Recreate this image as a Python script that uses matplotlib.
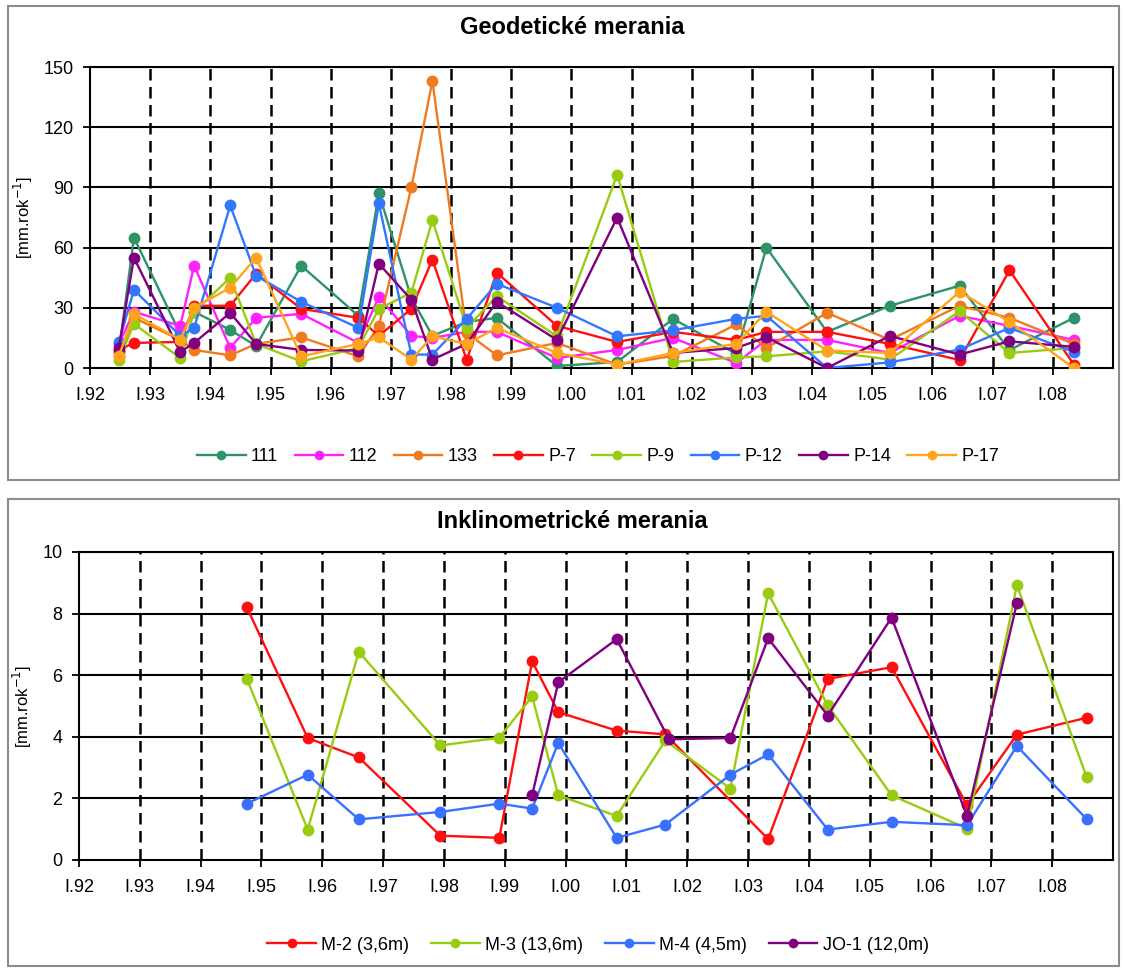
import numpy as np
import matplotlib.pyplot as plt
from matplotlib.patches import Rectangle
from matplotlib.lines import Line2D

plt.rcParams['font.family'] = ['Liberation Sans', 'DejaVu Sans']

# --- data -------------------------------------------------------------
years = list(range(1992, 2009))
year_labels = ['I.%02d' % (y % 100) for y in years]

geo_dates = [1992.48, 1992.73, 1993.50, 1993.73, 1994.33, 1994.76, 1995.51,
             1996.46, 1996.80, 1997.34, 1997.69, 1998.26, 1998.76, 1999.76,
             2000.76, 2001.69, 2002.74, 2003.24, 2004.25, 2005.29, 2006.45,
             2007.28, 2008.35]

s111 = [8, 65, 17, 28, 19, 11, 51, 26, 87, 35, 16, 23, 25, 1, 3, 24.5, 7, 60, 18, 31, 41, 9, 25]
s112 = [12, 28, 21, 51, 10, 25, 27, 12.5, 35.5, 16, 15, 18, 18, 5, 9, 15, 2.5, 14, 14, 7.5, 26, 21, 14]
s133 = [6, 25, 14, 9, 6.3, 12, 15.3, 5.8, 21, 90, 143, 17.5, 6.3, 12.5, 1.7, 6, 21.7, 10, 27.5, 14, 31, 25, 12]
sP7 = [9, 12.5, 13, 31, 31, 47, 29.5, 25, 16, 29.5, 54, 4, 47.5, 21, 13, 18, 14, 18, 18, 12, 4, 48.7, 1.7]
sP9 = [4, 22, 5, 28, 45, 12, 3.3, 10, 29.5, 37.5, 73.7, 20, 35.8, 15.8, 96.3, 3, 5.3, 5.8, 8.3, 4.2, 28.3, 7.5, 10]
sP12 = [13, 39, 16, 20, 81, 46, 33, 20, 82, 6.7, 6.7, 24.5, 42, 30, 15.8, 18.8, 24.5, 26, 0, 2.8, 9.2, 20, 8]
sP14 = [10, 55, 8, 12.5, 27.5, 12, 9, 8.7, 52, 34, 4.2, 12, 33, 14, 75, 7.5, 10, 15.3, 0, 16, 6.7, 13.3, 10.5]
sP17 = [6, 27, 14, 30, 40, 55, 5.8, 12, 15.3, 4.2, 15.8, 12, 20, 7.5, 1.7, 7.5, 12, 28, 8.7, 7.5, 38, 23, 0]

m2_dates = [1994.76, 1995.76, 1996.60, 1997.94, 1998.91, 1999.45, 1999.88, 2000.84,
            2001.64, 2003.33, 2004.31, 2005.36, 2006.60, 2007.42, 2008.57]
m2 = [8.2, 3.96, 3.33, 0.79, 0.72, 6.45, 4.8, 4.2, 4.08, 0.68, 5.88, 6.26, 1.78, 4.07, 4.62]

m34_dates = [1994.76, 1995.76, 1996.60, 1997.94, 1998.91, 1999.45, 1999.88, 2000.84,
             2001.64, 2002.71, 2003.33, 2004.31, 2005.36, 2006.60, 2007.42, 2008.57]
m3 = [5.88, 0.99, 6.76, 3.72, 3.97, 5.31, 2.1, 1.43, 3.88, 2.32, 8.66, 5.02, 2.1, 1.02, 8.92, 2.68]
m4 = [1.83, 2.77, 1.32, 1.56, 1.83, 1.67, 3.8, 0.72, 1.15, 2.77, 3.43, 0.99, 1.24, 1.13, 3.7, 1.32]

jo1_dates = [1999.45, 1999.88, 2000.84, 2001.70, 2002.71, 2003.33, 2004.31, 2005.36, 2006.60, 2007.42]
jo1 = [2.1, 5.77, 7.17, 3.92, 3.96, 7.2, 4.69, 7.87, 1.43, 8.34]

geo_series = [('111', s111, '#2e9468'), ('112', s112, '#ff22ff'), ('133', s133, '#f07a1e'),
              ('P-7', sP7, '#ff1010'), ('P-9', sP9, '#99cc11'), ('P-12', sP12, '#3377ff'),
              ('P-14', sP14, '#800080'), ('P-17', sP17, '#ffa41c')]
ink_series = [('M-2 (3,6m)', m2_dates, m2, '#ff1010'), ('M-3 (13,6m)', m34_dates, m3, '#99cc11'),
              ('M-4 (4,5m)', m34_dates, m4, '#3a70ff'), ('JO-1 (12,0m)', jo1_dates, jo1, '#800080')]

# --- figure -----------------------------------------------------------
fig = plt.figure(figsize=(11.24, 9.68), dpi=100)
W, H = 1124, 968

# grey frames around the two charts
for top, bot in [(6, 480), (499, 966)]:
    fig.patches.append(Rectangle((8 / W, 1 - bot / H), 1111 / W, (bot - top) / H,
                                 transform=fig.transFigure, fill=False,
                                 edgecolor='#8c8c8c', linewidth=1.5))


def style_axis(ax, ymax, ystep):
    ax.set_xlim(1992, 2009)
    ax.set_ylim(0, ymax)
    ax.set_xticks(years)
    ax.set_xticklabels(year_labels)
    ax.set_yticks(np.arange(0, ymax + 0.1, ystep))
    ax.tick_params(axis='both', direction='out', length=5, width=1.3, labelsize=13)
    ax.tick_params(axis='x', pad=9)
    ax.tick_params(axis='y', pad=7)
    for y in np.arange(ystep, ymax + 0.1, ystep):
        ax.axhline(y, color='black', linewidth=1.5, zorder=1)
    for x in years[1:]:
        ax.axvline(x, color='black', linewidth=1.8, dashes=(4.6, 2.6), zorder=1)
    for sp in ax.spines.values():
        sp.set_linewidth(1.5)
    ax.set_ylabel('[mm.rok$^{-1}$]', fontsize=12, labelpad=6)


def add_legend(handles, labels, ncol, ypix, colsp):
    fig.legend(handles, labels, loc='center', ncol=ncol, frameon=False,
               bbox_to_anchor=(598 / W, 1 - ypix / H), fontsize=13, handlelength=2.7,
               handletextpad=0.3, columnspacing=colsp)


# top panel
ax1 = fig.add_axes([90 / W, 1 - 368 / H, 1023 / W, 301 / H])
style_axis(ax1, 150, 30)
for name, vals, col in geo_series:
    ax1.plot(geo_dates, vals, color=col, linewidth=1.7, marker='o', markersize=7.5,
             label=name, zorder=3)
fig.text(572 / W, 1 - 27 / H, 'Geodetické merania', ha='center', va='center',
         fontsize=17, fontweight='bold')
h1 = [Line2D([], [], color=c, linewidth=1.7, marker='o', markersize=6) for _, _, c in geo_series]
add_legend(h1, [n for n, _, _ in geo_series], 8, 457, 0.9)

# bottom panel
ax2 = fig.add_axes([79 / W, 1 - 860 / H, 1034 / W, 308 / H])
style_axis(ax2, 10, 2)
for name, d, vals, col in ink_series:
    ax2.plot(d, vals, color=col, linewidth=1.7, marker='o', markersize=7.5,
             label=name, zorder=3)
fig.text(572 / W, 1 - 521 / H, 'Inklinometrické merania', ha='center', va='center',
         fontsize=17, fontweight='bold')
h2 = [Line2D([], [], color=c, linewidth=1.7, marker='o', markersize=6) for _, _, _, c in ink_series]
add_legend(h2, [n for n, _, _, _ in ink_series], 4, 945, 1.2)

fig.savefig('out.png', dpi=100)
